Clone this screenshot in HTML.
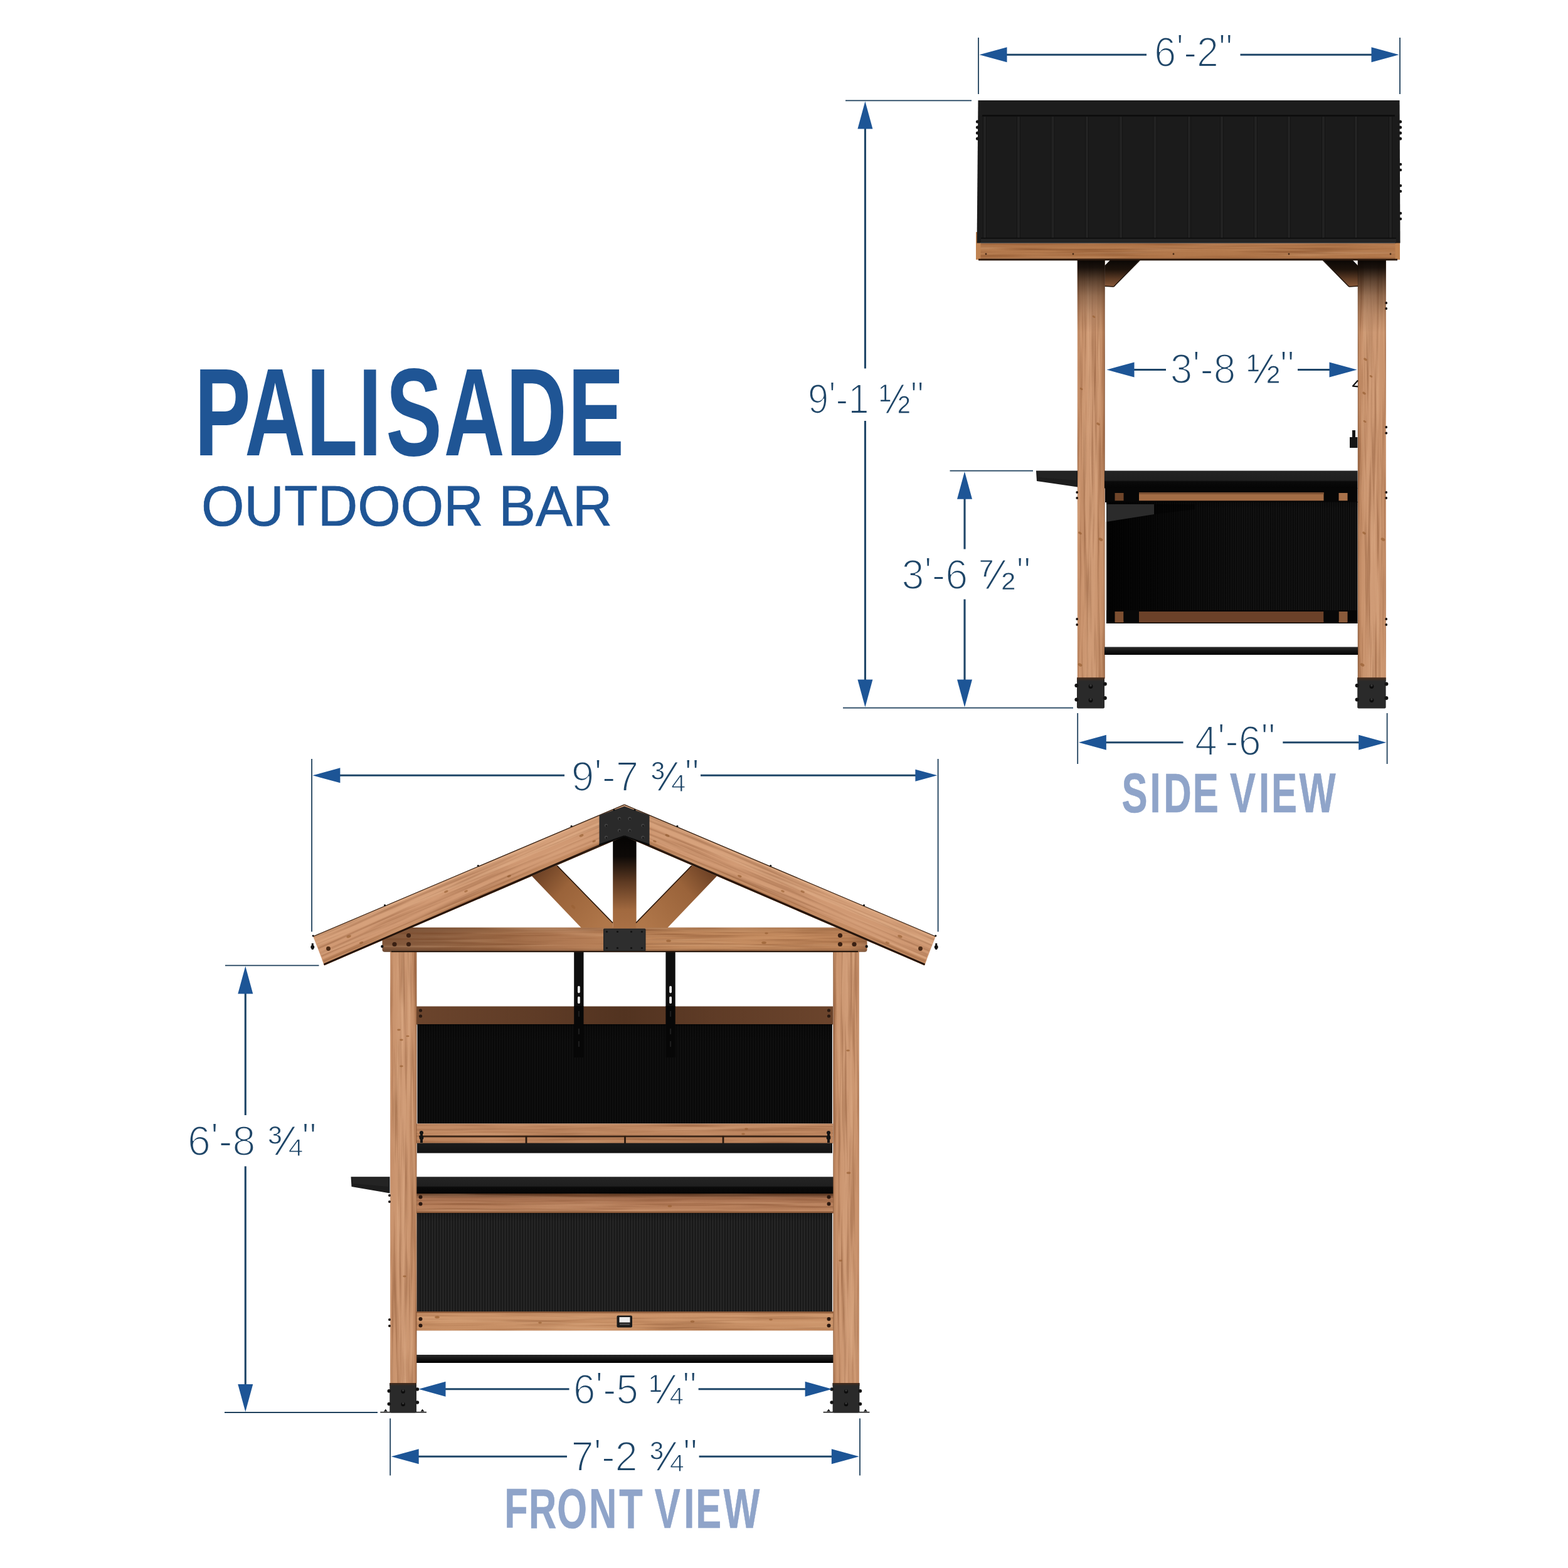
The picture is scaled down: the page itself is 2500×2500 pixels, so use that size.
<!DOCTYPE html>
<html lang="en">
<head>
<meta charset="utf-8">
<title>Palisade Outdoor Bar - Dimensions</title>
<style>
html,body{margin:0;padding:0;background:#fff;}
body{width:2500px;height:2500px;overflow:hidden;}
svg{display:block;}
text{white-space:pre;}
</style>
</head>
<body>
<svg width="2500" height="2500" viewBox="0 0 2500 2500" role="img" aria-label="Palisade Outdoor Bar dimension drawing" font-family="'Liberation Sans', sans-serif">
<defs>
<linearGradient id="gPost" x1="0" x2="1" y1="0" y2="0">
 <stop offset="0" stop-color="#c48d68"/><stop offset="0.1" stop-color="#c9936d"/>
 <stop offset="0.5" stop-color="#d09c77"/><stop offset="0.85" stop-color="#c8926c"/>
 <stop offset="0.96" stop-color="#b8815b"/><stop offset="1" stop-color="#8f5f3f"/>
</linearGradient>
<linearGradient id="gPostR" x1="1" x2="0" y1="0" y2="0">
 <stop offset="0" stop-color="#c48d68"/><stop offset="0.1" stop-color="#c9936d"/>
 <stop offset="0.5" stop-color="#d09c77"/><stop offset="0.85" stop-color="#c8926c"/>
 <stop offset="0.96" stop-color="#b8815b"/><stop offset="1" stop-color="#8f5f3f"/>
</linearGradient>
<linearGradient id="gRaft" x1="0" x2="0" y1="0" y2="1">
 <stop offset="0" stop-color="#cf9866"/><stop offset="0.55" stop-color="#c98f5e"/>
 <stop offset="0.9" stop-color="#bd8252"/><stop offset="1" stop-color="#a86d40"/>
</linearGradient>
<linearGradient id="gTie" gradientUnits="userSpaceOnUse" x1="609" x2="1383" y1="0" y2="0">
 <stop offset="0" stop-color="#80563a"/><stop offset="0.12" stop-color="#8c5f40"/>
 <stop offset="0.25" stop-color="#9f6c48"/><stop offset="0.38" stop-color="#b07953"/>
 <stop offset="0.55" stop-color="#bf875c"/><stop offset="0.85" stop-color="#c68d61"/>
 <stop offset="0.96" stop-color="#bb8258"/><stop offset="1" stop-color="#9a6846"/>
</linearGradient>
<linearGradient id="gTieV" x1="0" x2="0" y1="0" y2="1">
 <stop offset="0" stop-color="#000" stop-opacity="0.10"/><stop offset="0.25" stop-color="#000" stop-opacity="0"/>
 <stop offset="0.85" stop-color="#000" stop-opacity="0"/><stop offset="1" stop-color="#000" stop-opacity="0.25"/>
</linearGradient>
<linearGradient id="gKing" x1="0" x2="0" y1="0" y2="1">
 <stop offset="0" stop-color="#050403"/><stop offset="0.22" stop-color="#0d0907"/>
 <stop offset="0.5" stop-color="#5e3a22"/><stop offset="0.8" stop-color="#a1693f"/>
 <stop offset="1" stop-color="#a97045"/>
</linearGradient>
<linearGradient id="gBrL" gradientUnits="userSpaceOnUse" x1="860" y1="1390" x2="960" y2="1480">
 <stop offset="0" stop-color="#6f4326"/><stop offset="0.35" stop-color="#9a633a"/><stop offset="1" stop-color="#b0774a"/>
</linearGradient>
<linearGradient id="gBrR" gradientUnits="userSpaceOnUse" x1="1131" y1="1390" x2="1031" y2="1480">
 <stop offset="0" stop-color="#6f4326"/><stop offset="0.35" stop-color="#9a633a"/><stop offset="1" stop-color="#b0774a"/>
</linearGradient>
<linearGradient id="gRailDark" x1="0" x2="1" y1="0" y2="0">
 <stop offset="0" stop-color="#6b442c"/><stop offset="0.3" stop-color="#5e3b26"/><stop offset="0.5" stop-color="#523320"/>
 <stop offset="0.7" stop-color="#5e3b26"/><stop offset="1" stop-color="#6b442c"/>
</linearGradient>
<linearGradient id="gRailMid" x1="0" x2="0" y1="0" y2="1">
 <stop offset="0" stop-color="#c18a64"/><stop offset="1" stop-color="#bb835c"/>
</linearGradient>
<linearGradient id="gRailCnt" x1="0" x2="0" y1="0" y2="1">
 <stop offset="0" stop-color="#4e2f1c"/><stop offset="0.25" stop-color="#a56f4f"/><stop offset="0.5" stop-color="#b57d5a"/><stop offset="1" stop-color="#bd8560"/>
</linearGradient>
<linearGradient id="gRailLow" x1="0" x2="0" y1="0" y2="1">
 <stop offset="0" stop-color="#cc956b"/><stop offset="1" stop-color="#c68e64"/>
</linearGradient>
<linearGradient id="gCounter" x1="0" x2="0" y1="0" y2="1">
 <stop offset="0" stop-color="#242424"/><stop offset="0.55" stop-color="#1f1f1f"/>
 <stop offset="0.62" stop-color="#0a0a0a"/><stop offset="1" stop-color="#050505"/>
</linearGradient>
<linearGradient id="gShelf" x1="0" x2="0" y1="0" y2="1">
 <stop offset="0" stop-color="#1c1c1c"/><stop offset="1" stop-color="#131313"/>
</linearGradient>
<linearGradient id="gBar" x1="0" x2="0" y1="0" y2="1">
 <stop offset="0" stop-color="#2a2a2a"/><stop offset="0.45" stop-color="#161616"/><stop offset="1" stop-color="#000"/>
</linearGradient>
<linearGradient id="gPanelShade" x1="0" x2="0" y1="0" y2="1">
 <stop offset="0" stop-color="#000" stop-opacity="0.55"/><stop offset="0.12" stop-color="#000" stop-opacity="0.15"/>
 <stop offset="1" stop-color="#000" stop-opacity="0"/>
</linearGradient>
<linearGradient id="gFascia" x1="0" x2="0" y1="0" y2="1">
 <stop offset="0" stop-color="#a86e44"/><stop offset="0.3" stop-color="#b57b4e"/><stop offset="0.85" stop-color="#b0764a"/><stop offset="1" stop-color="#8c5936"/>
</linearGradient>
<linearGradient id="gSBr" gradientUnits="userSpaceOnUse" x1="0" y1="414" x2="0" y2="458">
 <stop offset="0" stop-color="#0a0705"/><stop offset="0.35" stop-color="#1c120b"/><stop offset="0.7" stop-color="#5d3b25"/><stop offset="1" stop-color="#8d5c3c"/>
</linearGradient>
<linearGradient id="gPostShade" gradientUnits="userSpaceOnUse" x1="0" y1="413" x2="0" y2="530">
 <stop offset="0" stop-color="#080503" stop-opacity="1"/><stop offset="0.12" stop-color="#0d0805" stop-opacity="0.93"/>
 <stop offset="0.3" stop-color="#1a0f08" stop-opacity="0.62"/><stop offset="0.5" stop-color="#2a1a10" stop-opacity="0.36"/>
 <stop offset="0.75" stop-color="#3a2416" stop-opacity="0.15"/><stop offset="1" stop-color="#3a2416" stop-opacity="0"/>
</linearGradient>
<linearGradient id="gSideShade" x1="0" x2="1" y1="0" y2="0">
 <stop offset="0" stop-color="#000" stop-opacity="0.85"/><stop offset="0.2" stop-color="#000" stop-opacity="0.6"/>
 <stop offset="0.55" stop-color="#000" stop-opacity="0.15"/><stop offset="1" stop-color="#000" stop-opacity="0.1"/>
</linearGradient>
<linearGradient id="gBrkTop" gradientUnits="userSpaceOnUse" x1="0" y1="1080.4" x2="0" y2="1086">
 <stop offset="0" stop-color="#4a2e1c"/><stop offset="1" stop-color="#2a2a2a"/>
</linearGradient>
<linearGradient id="gBrkTop2" gradientUnits="userSpaceOnUse" x1="0" y1="2205" x2="0" y2="2209.5">
 <stop offset="0" stop-color="#4a2e1c"/><stop offset="1" stop-color="#2a2a2a"/>
</linearGradient>
<filter id="grainV" x="0" y="0" width="1" height="1" color-interpolation-filters="sRGB">
 <feTurbulence type="fractalNoise" baseFrequency="0.22 0.006" numOctaves="3" seed="7" result="n"/>
 <feColorMatrix in="n" type="matrix" values="0 0 0 0 0.42  0 0 0 0 0.22  0 0 0 0 0.10  2.6 0 0 0 -1.15" result="d"/>
 <feComposite in="d" in2="SourceGraphic" operator="in"/>
</filter>
<filter id="grainVL" x="0" y="0" width="1" height="1" color-interpolation-filters="sRGB">
 <feTurbulence type="fractalNoise" baseFrequency="0.18 0.005" numOctaves="3" seed="21" result="n"/>
 <feColorMatrix in="n" type="matrix" values="0 0 0 0 1  0 0 0 0 0.85  0 0 0 0 0.7  2.4 0 0 0 -1.15" result="d"/>
 <feComposite in="d" in2="SourceGraphic" operator="in"/>
</filter>
<filter id="grainH" x="0" y="0" width="1" height="1" color-interpolation-filters="sRGB">
 <feTurbulence type="fractalNoise" baseFrequency="0.006 0.22" numOctaves="3" seed="11" result="n"/>
 <feColorMatrix in="n" type="matrix" values="0 0 0 0 0.42  0 0 0 0 0.22  0 0 0 0 0.10  2.6 0 0 0 -1.15" result="d"/>
 <feComposite in="d" in2="SourceGraphic" operator="in"/>
</filter>
<filter id="grainHL" x="0" y="0" width="1" height="1" color-interpolation-filters="sRGB">
 <feTurbulence type="fractalNoise" baseFrequency="0.005 0.18" numOctaves="3" seed="5" result="n"/>
 <feColorMatrix in="n" type="matrix" values="0 0 0 0 1  0 0 0 0 0.85  0 0 0 0 0.7  2.4 0 0 0 -1.15" result="d"/>
 <feComposite in="d" in2="SourceGraphic" operator="in"/>
</filter>
<pattern id="pCorr" width="4" height="8" patternUnits="userSpaceOnUse">
 <rect width="4" height="8" fill="#101010"/><rect x="0" width="1.6" height="8" fill="#1b1b1b"/>
</pattern>
<pattern id="pCorr2" width="4.3" height="8" patternUnits="userSpaceOnUse">
 <rect width="4.3" height="8" fill="#171717"/><rect x="0.3" width="1.9" height="8" fill="#2a2a2a"/><rect x="0" width="0.5" height="8" fill="#202020"/><rect x="2.1" width="0.5" height="8" fill="#202020"/>
</pattern>
<pattern id="pCorrS" width="3.6" height="8" patternUnits="userSpaceOnUse">
 <rect width="3.6" height="8" fill="#0b0b0b"/><rect x="0" width="1.4" height="8" fill="#181818"/>
</pattern>
</defs>
<g id="side-view">
<rect x="1717.80" y="413.00" width="43.80" height="669.00" fill="url(#gPost)" />
<rect x="1717.80" y="413.00" width="43.80" height="669.00" fill="#000" filter="url(#grainV)" opacity="0.4" />
<rect x="1717.80" y="413.00" width="43.80" height="669.00" fill="#000" filter="url(#grainVL)" opacity="0.240" />
<rect x="2164.80" y="413.00" width="45.00" height="669.00" fill="url(#gPostR)" />
<rect x="2164.80" y="413.00" width="45.00" height="669.00" fill="#000" filter="url(#grainV)" opacity="0.4" />
<rect x="2164.80" y="413.00" width="45.00" height="669.00" fill="#000" filter="url(#grainVL)" opacity="0.240" />
<polygon points="1770.70,414.00 1817.50,414.00 1775.70,457.40 1761.40,456.40 1761.40,423.50" fill="url(#gSBr)" />
<line x1="1817.20" y1="415.00" x2="1775.90" y2="457.00" stroke="#1c110a" stroke-width="1.4" stroke-linecap="butt"/>
<line x1="1775.70" y1="457.00" x2="1761.60" y2="456.20" stroke="#2a1a10" stroke-width="1.4" stroke-linecap="butt"/>
<polygon points="2155.90,414.00 2109.10,414.00 2150.90,457.40 2165.20,456.40 2165.20,423.50" fill="url(#gSBr)" />
<line x1="2109.40" y1="415.00" x2="2150.70" y2="457.00" stroke="#1c110a" stroke-width="1.4" stroke-linecap="butt"/>
<line x1="2150.90" y1="457.00" x2="2165.00" y2="456.20" stroke="#2a1a10" stroke-width="1.4" stroke-linecap="butt"/>
<rect x="1717.80" y="413.00" width="43.80" height="117.00" fill="url(#gPostShade)" />
<rect x="2164.80" y="413.00" width="45.00" height="117.00" fill="url(#gPostShade)" />
<rect x="1556.50" y="388.00" width="675.50" height="26.00" fill="url(#gFascia)" />
<rect x="1556.50" y="388.00" width="675.50" height="26.00" fill="#000" filter="url(#grainH)" opacity="0.4" />
<rect x="1556.50" y="388.00" width="675.50" height="26.00" fill="#000" filter="url(#grainHL)" opacity="0.240" />
<rect x="1556.00" y="370.00" width="7.50" height="44.00" fill="#c08453" />
<rect x="2224.50" y="370.00" width="7.50" height="44.00" fill="#c08453" />
<rect x="1560.00" y="412.60" width="668.00" height="2.80" fill="#2b190e" />
<circle cx="1572.00" cy="405.00" r="1.4" fill="#4a2c18" />
<circle cx="1711.00" cy="405.00" r="1.4" fill="#4a2c18" />
<circle cx="1871.00" cy="405.00" r="1.4" fill="#4a2c18" />
<circle cx="2055.00" cy="405.00" r="1.4" fill="#4a2c18" />
<circle cx="2217.00" cy="405.00" r="1.4" fill="#4a2c18" />
<polygon points="1559.50,160.00 2231.50,160.00 2232.50,387.50 1557.50,387.50" fill="#1b1b1b" />
<rect x="1560.00" y="160.00" width="671.00" height="24.00" fill="#1d1d1d" />
<rect x="1566.00" y="183.20" width="658.00" height="2.40" fill="#0c0c0c" />
<rect x="1567.00" y="186.00" width="6.00" height="195.00" fill="#222222" />
<rect x="1567.00" y="186.00" width="1.00" height="195.00" fill="#131313" />
<rect x="1572.00" y="186.00" width="1.00" height="195.00" fill="#131313" />
<rect x="1621.00" y="186.00" width="6.00" height="195.00" fill="#222222" />
<rect x="1621.00" y="186.00" width="1.00" height="195.00" fill="#131313" />
<rect x="1626.00" y="186.00" width="1.00" height="195.00" fill="#131313" />
<rect x="1675.50" y="186.00" width="6.00" height="195.00" fill="#222222" />
<rect x="1675.50" y="186.00" width="1.00" height="195.00" fill="#131313" />
<rect x="1680.50" y="186.00" width="1.00" height="195.00" fill="#131313" />
<rect x="1730.00" y="186.00" width="6.00" height="195.00" fill="#222222" />
<rect x="1730.00" y="186.00" width="1.00" height="195.00" fill="#131313" />
<rect x="1735.00" y="186.00" width="1.00" height="195.00" fill="#131313" />
<rect x="1784.00" y="186.00" width="6.00" height="195.00" fill="#222222" />
<rect x="1784.00" y="186.00" width="1.00" height="195.00" fill="#131313" />
<rect x="1789.00" y="186.00" width="1.00" height="195.00" fill="#131313" />
<rect x="1838.50" y="186.00" width="6.00" height="195.00" fill="#222222" />
<rect x="1838.50" y="186.00" width="1.00" height="195.00" fill="#131313" />
<rect x="1843.50" y="186.00" width="1.00" height="195.00" fill="#131313" />
<rect x="1893.00" y="186.00" width="6.00" height="195.00" fill="#222222" />
<rect x="1893.00" y="186.00" width="1.00" height="195.00" fill="#131313" />
<rect x="1898.00" y="186.00" width="1.00" height="195.00" fill="#131313" />
<rect x="1945.00" y="186.00" width="6.00" height="195.00" fill="#222222" />
<rect x="1945.00" y="186.00" width="1.00" height="195.00" fill="#131313" />
<rect x="1950.00" y="186.00" width="1.00" height="195.00" fill="#131313" />
<rect x="1999.00" y="186.00" width="6.00" height="195.00" fill="#222222" />
<rect x="1999.00" y="186.00" width="1.00" height="195.00" fill="#131313" />
<rect x="2004.00" y="186.00" width="1.00" height="195.00" fill="#131313" />
<rect x="2052.00" y="186.00" width="6.00" height="195.00" fill="#222222" />
<rect x="2052.00" y="186.00" width="1.00" height="195.00" fill="#131313" />
<rect x="2057.00" y="186.00" width="1.00" height="195.00" fill="#131313" />
<rect x="2107.00" y="186.00" width="6.00" height="195.00" fill="#222222" />
<rect x="2107.00" y="186.00" width="1.00" height="195.00" fill="#131313" />
<rect x="2112.00" y="186.00" width="1.00" height="195.00" fill="#131313" />
<rect x="2159.00" y="186.00" width="6.00" height="195.00" fill="#222222" />
<rect x="2159.00" y="186.00" width="1.00" height="195.00" fill="#131313" />
<rect x="2164.00" y="186.00" width="1.00" height="195.00" fill="#131313" />
<rect x="2214.00" y="186.00" width="6.00" height="195.00" fill="#222222" />
<rect x="2214.00" y="186.00" width="1.00" height="195.00" fill="#131313" />
<rect x="2219.00" y="186.00" width="1.00" height="195.00" fill="#131313" />
<rect x="1564.00" y="380.00" width="662.00" height="7.50" fill="#242424" />
<rect x="1564.00" y="379.00" width="662.00" height="1.60" fill="#0c0c0c" />
<circle cx="1558.50" cy="194.00" r="2.6" fill="#161616" />
<circle cx="2232.50" cy="194.00" r="2.6" fill="#161616" />
<circle cx="1558.50" cy="203.00" r="2.6" fill="#161616" />
<circle cx="2232.50" cy="203.00" r="2.6" fill="#161616" />
<circle cx="1558.50" cy="212.00" r="2.6" fill="#161616" />
<circle cx="2232.50" cy="212.00" r="2.6" fill="#161616" />
<circle cx="1558.50" cy="221.00" r="2.6" fill="#161616" />
<circle cx="2232.50" cy="221.00" r="2.6" fill="#161616" />
<circle cx="2233.00" cy="262.00" r="2.2" fill="#161616" />
<circle cx="2233.00" cy="271.00" r="2.2" fill="#161616" />
<circle cx="2233.00" cy="296.00" r="2.2" fill="#161616" />
<circle cx="2233.00" cy="305.00" r="2.2" fill="#161616" />
<circle cx="2233.00" cy="340.00" r="2.2" fill="#161616" />
<circle cx="2233.00" cy="349.00" r="2.2" fill="#161616" />
<rect x="1761.00" y="750.50" width="403.50" height="28.00" fill="url(#gCounter)" />
<polygon points="1652.00,750.50 1718.00,750.50 1718.00,776.50 1653.00,767.00" fill="#1d1d1d" />
<polygon points="1654.00,752.00 1716.00,752.00 1716.00,766.00 1655.00,761.00" fill="#232323" />
<rect x="1762.00" y="778.00" width="402.50" height="23.00" fill="#060606" />
<rect x="1816.00" y="785.00" width="294.50" height="13.30" fill="#a36c45" />
<rect x="1816.00" y="785.00" width="294.50" height="3.00" fill="#7c5033" />
<rect x="1777.50" y="786.00" width="14.00" height="12.30" fill="#6f4529" />
<rect x="2134.50" y="786.00" width="14.00" height="12.30" fill="#a8714a" />
<rect x="1764.00" y="800.00" width="400.50" height="173.00" fill="url(#pCorrS)" />
<rect x="1764.00" y="800.00" width="400.50" height="173.00" fill="url(#gSideShade)" />
<rect x="1764.00" y="800.00" width="400.50" height="12.00" fill="url(#gPanelShade)" />
<polygon points="1764.00,804.00 1840.00,804.00 1840.00,820.00 1764.00,832.00" fill="#2b2b2b" />
<polygon points="1764.00,832.00 1840.00,820.00 1905.00,812.00 1905.00,804.00 1840.00,804.00 1840.00,820.00" fill="#000"  opacity="0.35"/>
<rect x="1761.80" y="832.00" width="2.40" height="141.00" fill="#e8e0d8" />
<rect x="1764.00" y="973.00" width="400.50" height="21.00" fill="#050505" />
<rect x="1816.00" y="975.00" width="294.50" height="17.50" fill="#6b4129" />
<rect x="1777.50" y="975.00" width="14.00" height="17.50" fill="#7d4f31" />
<rect x="2134.50" y="975.00" width="14.00" height="17.50" fill="#8a5a3a" />
<rect x="1791.50" y="973.00" width="24.50" height="17.00" fill="#080808" />
<rect x="2110.50" y="973.00" width="24.00" height="17.00" fill="#080808" />
<rect x="1761.00" y="1031.50" width="404.00" height="12.50" fill="url(#gBar)" />
<rect x="2152.00" y="697.00" width="12.40" height="17.00" fill="#161616" />
<rect x="2156.00" y="686.00" width="5.00" height="12.00" fill="#161616" />
<path d="M2165,606.5 L2157,615.6 L2165,616.4" fill="none" stroke="#161616" stroke-width="2.2" stroke-linejoin="round"/>
<circle cx="2210.20" cy="483.00" r="1.9" fill="#1c1410" />
<circle cx="2210.20" cy="492.00" r="1.9" fill="#1c1410" />
<circle cx="2210.20" cy="681.00" r="1.9" fill="#1c1410" />
<circle cx="2210.20" cy="690.50" r="1.9" fill="#1c1410" />
<circle cx="2210.20" cy="785.00" r="1.9" fill="#1c1410" />
<circle cx="2210.20" cy="794.00" r="1.9" fill="#1c1410" />
<circle cx="2210.20" cy="987.00" r="1.9" fill="#1c1410" />
<circle cx="2210.20" cy="996.00" r="1.9" fill="#1c1410" />
<circle cx="1717.20" cy="785.00" r="1.9" fill="#1c1410" />
<circle cx="1717.20" cy="794.00" r="1.9" fill="#1c1410" />
<circle cx="1717.20" cy="987.00" r="1.9" fill="#1c1410" />
<circle cx="1717.20" cy="996.00" r="1.9" fill="#1c1410" />
<ellipse cx="1724.0" cy="620.0" rx="2.6" ry="1.5" fill="#9a6236" opacity="0.75" transform="rotate(30 1724.0 620.0)"/>
<ellipse cx="1751.0" cy="676.0" rx="3.1" ry="1.875" fill="#9a6236" opacity="0.75" transform="rotate(30 1751.0 676.0)"/>
<ellipse cx="1722.0" cy="850.0" rx="3.1" ry="1.875" fill="#9a6236" opacity="0.75" transform="rotate(30 1722.0 850.0)"/>
<ellipse cx="1755.0" cy="860.0" rx="3.6" ry="2.25" fill="#9a6236" opacity="0.75" transform="rotate(30 1755.0 860.0)"/>
<ellipse cx="1722.0" cy="1060.0" rx="3.6" ry="2.25" fill="#9a6236" opacity="0.75" transform="rotate(30 1722.0 1060.0)"/>
<ellipse cx="1744.0" cy="505.0" rx="2.6" ry="1.5" fill="#9a6236" opacity="0.75" transform="rotate(30 1744.0 505.0)"/>
<ellipse cx="2175.0" cy="850.0" rx="3.1" ry="1.875" fill="#9a6236" opacity="0.75" transform="rotate(30 2175.0 850.0)"/>
<ellipse cx="2205.0" cy="860.0" rx="3.6" ry="2.25" fill="#9a6236" opacity="0.75" transform="rotate(30 2205.0 860.0)"/>
<ellipse cx="2172.0" cy="1060.0" rx="3.6" ry="2.25" fill="#9a6236" opacity="0.75" transform="rotate(30 2172.0 1060.0)"/>
<ellipse cx="2177.0" cy="573.0" rx="3.1" ry="1.875" fill="#9a6236" opacity="0.75" transform="rotate(30 2177.0 573.0)"/>
<ellipse cx="2186.0" cy="600.0" rx="2.6" ry="1.5" fill="#9a6236" opacity="0.75" transform="rotate(30 2186.0 600.0)"/>
<ellipse cx="2175.0" cy="627.0" rx="3.1" ry="1.875" fill="#9a6236" opacity="0.75" transform="rotate(30 2175.0 627.0)"/>
<ellipse cx="2176.0" cy="672.0" rx="2.6" ry="1.5" fill="#9a6236" opacity="0.75" transform="rotate(30 2176.0 672.0)"/>
<path d="M1717,1080.4 H1761 V1127.5 Q1761,1129.6 1759,1129.6 H1719 Q1717,1129.6 1717,1127.5 Z" fill="#2a2a2a"/>
<rect x="1717.00" y="1080.40" width="44.00" height="5.60" fill="url(#gBrkTop)" />
<circle cx="1739.00" cy="1094.50" r="3.4" fill="#0c0c0c" />
<circle cx="1739.00" cy="1092.90" r="1.8" fill="#555"  opacity="0.6"/>
<circle cx="1739.00" cy="1116.50" r="3.4" fill="#0c0c0c" />
<circle cx="1739.00" cy="1114.90" r="1.8" fill="#555"  opacity="0.6"/>
<circle cx="1716.40" cy="1093.00" r="3" fill="#141414" />
<circle cx="1761.80" cy="1090.50" r="3" fill="#141414" />
<circle cx="1716.40" cy="1115.50" r="3" fill="#141414" />
<circle cx="1761.80" cy="1113.00" r="3" fill="#141414" />
<path d="M2164.2,1080.4 H2209.6 V1127.5 Q2209.6,1129.6 2207.6,1129.6 H2166.2 Q2164.2,1129.6 2164.2,1127.5 Z" fill="#2a2a2a"/>
<rect x="2164.20" y="1080.40" width="45.40" height="5.60" fill="url(#gBrkTop)" />
<circle cx="2186.90" cy="1094.50" r="3.4" fill="#0c0c0c" />
<circle cx="2186.90" cy="1092.90" r="1.8" fill="#555"  opacity="0.6"/>
<circle cx="2186.90" cy="1116.50" r="3.4" fill="#0c0c0c" />
<circle cx="2186.90" cy="1114.90" r="1.8" fill="#555"  opacity="0.6"/>
<circle cx="2163.60" cy="1093.00" r="3" fill="#141414" />
<circle cx="2210.40" cy="1090.50" r="3" fill="#141414" />
<circle cx="2163.60" cy="1115.50" r="3" fill="#141414" />
<circle cx="2210.40" cy="1113.00" r="3" fill="#141414" />
</g>
<g id="front-view">
<rect x="915.20" y="1517.00" width="15.30" height="169.00" fill="#0e0e0e" />
<rect x="921.00" y="1572.00" width="3.80" height="11.40" fill="#f4f4f4"  rx="1.8"/>
<rect x="921.00" y="1588.80" width="3.80" height="11.40" fill="#f4f4f4"  rx="1.8"/>
<rect x="1061.40" y="1517.00" width="15.30" height="169.00" fill="#0e0e0e" />
<rect x="1067.20" y="1572.00" width="3.80" height="11.40" fill="#f4f4f4"  rx="1.8"/>
<rect x="1067.20" y="1588.80" width="3.80" height="11.40" fill="#f4f4f4"  rx="1.8"/>
<rect x="664.00" y="1604.50" width="664.00" height="29.00" fill="url(#gRailDark)" />
<rect x="665.50" y="1633.00" width="661.30" height="158.50" fill="url(#pCorr)" />
<rect x="665.50" y="1633.00" width="661.30" height="158.50" fill="#000"  opacity="0.38"/>
<rect x="665.50" y="1633.00" width="661.30" height="32.00" fill="url(#gPanelShade)" />
<rect x="915.20" y="1604.00" width="15.30" height="82.00" fill="#070707" />
<rect x="921.80" y="1612.00" width="2.20" height="9.00" fill="#1d1d1d" />
<rect x="921.80" y="1640.00" width="2.20" height="9.00" fill="#1d1d1d" />
<rect x="921.80" y="1660.00" width="2.20" height="9.00" fill="#1d1d1d" />
<rect x="1061.40" y="1604.00" width="15.30" height="82.00" fill="#070707" />
<rect x="1068.00" y="1612.00" width="2.20" height="9.00" fill="#1d1d1d" />
<rect x="1068.00" y="1640.00" width="2.20" height="9.00" fill="#1d1d1d" />
<rect x="1068.00" y="1660.00" width="2.20" height="9.00" fill="#1d1d1d" />
<rect x="664.00" y="1791.50" width="664.00" height="31.50" fill="url(#gRailMid)" />
<rect x="664.00" y="1791.50" width="664.00" height="31.50" fill="#000" filter="url(#grainH)" opacity="0.35" />
<rect x="664.00" y="1791.50" width="664.00" height="31.50" fill="#000" filter="url(#grainHL)" opacity="0.210" />
<rect x="668.00" y="1810.50" width="656.00" height="2.80" fill="#3a2416" />
<rect x="837.60" y="1811.00" width="2.80" height="12.00" fill="#2a1a10" />
<rect x="995.10" y="1811.00" width="2.80" height="12.00" fill="#2a1a10" />
<rect x="1151.60" y="1811.00" width="2.80" height="12.00" fill="#2a1a10" />
<rect x="665.00" y="1822.50" width="662.00" height="16.00" fill="url(#gShelf)" />
<circle cx="672.00" cy="1806.00" r="3" fill="#141414" />
<circle cx="672.00" cy="1814.00" r="3.4" fill="#141414" />
<rect x="670.00" y="1806.00" width="4.00" height="16.00" fill="#141414" />
<circle cx="1321.00" cy="1806.00" r="3" fill="#141414" />
<circle cx="1321.00" cy="1814.00" r="3.4" fill="#141414" />
<rect x="1319.00" y="1806.00" width="4.00" height="16.00" fill="#141414" />
<rect x="663.00" y="1876.30" width="666.00" height="26.70" fill="url(#gCounter)" />
<polygon points="559.50,1876.30 621.50,1876.30 621.50,1902.50 560.50,1892.00" fill="#1d1d1d" />
<polygon points="561.50,1878.00 619.00,1878.00 619.00,1892.00 562.50,1887.00" fill="#242424" />
<rect x="663.00" y="1903.00" width="666.00" height="31.00" fill="url(#gRailCnt)" />
<rect x="663.00" y="1903.00" width="666.00" height="31.00" fill="#000" filter="url(#grainH)" opacity="0.35" />
<rect x="663.00" y="1903.00" width="666.00" height="31.00" fill="#000" filter="url(#grainHL)" opacity="0.210" />
<rect x="663.00" y="1931.50" width="666.00" height="3.00" fill="#8a5a3a" />
<rect x="664.50" y="1934.00" width="662.50" height="157.00" fill="url(#pCorr2)" />
<rect x="664.50" y="1934.00" width="662.50" height="14.00" fill="url(#gPanelShade)" />
<rect x="663.00" y="2091.00" width="666.00" height="30.50" fill="url(#gRailLow)" />
<rect x="663.00" y="2091.00" width="666.00" height="30.50" fill="#000" filter="url(#grainH)" opacity="0.35" />
<rect x="663.00" y="2091.00" width="666.00" height="30.50" fill="#000" filter="url(#grainHL)" opacity="0.210" />
<rect x="663.00" y="2091.00" width="666.00" height="2.50" fill="#8a5a3a" />
<rect x="983.50" y="2097.50" width="24.50" height="19.00" fill="#1a1a1a"  rx="2"/>
<rect x="987.50" y="2100.00" width="17.00" height="8.50" fill="#ededed" />
<rect x="988.00" y="2110.50" width="16.00" height="2.00" fill="#555" />
<rect x="663.00" y="2160.00" width="666.00" height="13.00" fill="url(#gBar)" />
<circle cx="670.50" cy="1611.00" r="2.6" fill="#2a1a12" />
<circle cx="670.50" cy="1620.00" r="2.6" fill="#2a1a12" />
<circle cx="670.50" cy="1908.50" r="3" fill="#2a1810" />
<circle cx="670.50" cy="1919.50" r="3" fill="#2a1810" />
<circle cx="670.50" cy="2103.00" r="3" fill="#2a1810" />
<circle cx="670.50" cy="2113.50" r="3" fill="#2a1810" />
<circle cx="1321.50" cy="1611.00" r="2.6" fill="#2a1a12" />
<circle cx="1321.50" cy="1620.00" r="2.6" fill="#2a1a12" />
<circle cx="1321.50" cy="1908.50" r="3" fill="#2a1810" />
<circle cx="1321.50" cy="1919.50" r="3" fill="#2a1810" />
<circle cx="1321.50" cy="2103.00" r="3" fill="#2a1810" />
<circle cx="1321.50" cy="2113.50" r="3" fill="#2a1810" />
<rect x="622.20" y="1517.00" width="42.20" height="688.00" fill="url(#gPost)" />
<rect x="622.20" y="1517.00" width="42.20" height="688.00" fill="#000" filter="url(#grainV)" opacity="0.4" />
<rect x="622.20" y="1517.00" width="42.20" height="688.00" fill="#000" filter="url(#grainVL)" opacity="0.240" />
<rect x="1328.30" y="1517.00" width="41.50" height="688.00" fill="url(#gPostR)" />
<rect x="1328.30" y="1517.00" width="41.50" height="688.00" fill="#000" filter="url(#grainV)" opacity="0.4" />
<rect x="1328.30" y="1517.00" width="41.50" height="688.00" fill="#000" filter="url(#grainVL)" opacity="0.240" />
<circle cx="621.00" cy="1906.00" r="2" fill="#1c1410" />
<circle cx="621.00" cy="1916.00" r="2" fill="#1c1410" />
<circle cx="621.00" cy="2104.00" r="2" fill="#1c1410" />
<circle cx="621.00" cy="2114.00" r="2" fill="#1c1410" />
<rect x="609.5" y="1478.8" width="773" height="39" rx="4" fill="url(#gTie)"/>
<rect x="609.5" y="1478.8" width="773" height="39" rx="4" fill="url(#gTieV)"/>
<rect x="611.00" y="1479.00" width="770.00" height="38.00" fill="#000" filter="url(#grainH)" opacity="0.4" />
<rect x="611.00" y="1479.00" width="770.00" height="38.00" fill="#000" filter="url(#grainHL)" opacity="0.240" />
<rect x="624.00" y="1516.00" width="744.00" height="2.20" fill="#2b190e" />
<rect x="977.20" y="1333.00" width="37.40" height="147.00" fill="url(#gKing)" />
<polygon points="846.70,1395.40 888.10,1379.50 977.20,1471.00 977.20,1479.00 926.50,1479.00" fill="url(#gBrL)" />
<line x1="888.50" y1="1380.50" x2="977.00" y2="1471.50" stroke="#2a180d" stroke-width="1.6" stroke-linecap="butt"/>
<polygon points="1144.30,1395.40 1102.90,1379.50 1013.80,1471.00 1013.80,1479.00 1064.50,1479.00" fill="url(#gBrR)" />
<line x1="1102.50" y1="1380.50" x2="1014.00" y2="1471.50" stroke="#2a180d" stroke-width="1.6" stroke-linecap="butt"/>
<polygon points="499.40,1493.00 995.50,1282.80 995.50,1333.20 517.00,1539.20" fill="#d09973" />
<polygon points="1491.60,1493.00 995.50,1282.80 995.50,1333.20 1474.00,1539.20" fill="#d09973" />
<polygon points="499.40,1493.00 995.50,1282.80 995.50,1300.44 505.56,1509.17" fill="#d7a27d"  opacity="0.8"/>
<polygon points="513.48,1529.96 995.50,1323.12 995.50,1333.20 517.00,1539.20" fill="#bd845c"  opacity="0.7"/>
<polygon points="515.94,1536.43 995.50,1329.17 995.50,1333.20 517.00,1539.20" fill="#24140b" />
<ellipse cx="556.1" cy="1493.0" rx="3.8" ry="2.0999999999999996" fill="#9a6236" opacity="0.7" transform="rotate(-22 556.1 1493.0)"/>
<ellipse cx="576.1" cy="1503.1" rx="3.3" ry="1.75" fill="#9a6236" opacity="0.7" transform="rotate(-22 576.1 1503.1)"/>
<ellipse cx="711.3" cy="1421.5" rx="3.3" ry="1.75" fill="#9a6236" opacity="0.7" transform="rotate(-22 711.3 1421.5)"/>
<ellipse cx="743.0" cy="1421.0" rx="3.0" ry="1.54" fill="#9a6236" opacity="0.7" transform="rotate(-22 743.0 1421.0)"/>
<ellipse cx="811.7" cy="1396.8" rx="3.3" ry="1.75" fill="#9a6236" opacity="0.7" transform="rotate(-22 811.7 1396.8)"/>
<ellipse cx="927.0" cy="1332.2" rx="3.5999999999999996" ry="1.9599999999999997" fill="#9a6236" opacity="0.7" transform="rotate(-22 927.0 1332.2)"/>
<ellipse cx="947.2" cy="1341.3" rx="3.0" ry="1.54" fill="#9a6236" opacity="0.7" transform="rotate(-22 947.2 1341.3)"/>
<rect x="0.00" y="1.00" width="496.79" height="45.44" fill="#000" filter="url(#grainH)" opacity="0.35" transform="translate(499.40 1493.00) rotate(-22.963)"/>
<rect x="0.00" y="1.00" width="496.79" height="45.44" fill="#000" filter="url(#grainHL)" opacity="0.210" transform="translate(499.40 1493.00) rotate(-22.963)"/>
<line x1="499.40" y1="1493.00" x2="995.50" y2="1282.80" stroke="#3a2618" stroke-width="1.3" stroke-linecap="butt"/>
<circle cx="498.30" cy="1510.00" r="3" fill="#111" />
<rect x="496.80" y="1504.00" width="3.00" height="10.00" fill="#111" />
<circle cx="499.20" cy="1492.00" r="1.6" fill="#111" />
<circle cx="523.50" cy="1512.50" r="3.4" fill="#4a2a16" />
<circle cx="613.50" cy="1443.45" r="1.6" fill="#1a1a1a" />
<circle cx="762.33" cy="1380.39" r="1.6" fill="#1a1a1a" />
<circle cx="911.16" cy="1317.33" r="1.6" fill="#1a1a1a" />
<polygon points="1491.60,1493.00 995.50,1282.80 995.50,1300.44 1485.44,1509.17" fill="#d7a27d"  opacity="0.8"/>
<polygon points="1477.52,1529.96 995.50,1323.12 995.50,1333.20 1474.00,1539.20" fill="#bd845c"  opacity="0.7"/>
<polygon points="1475.06,1536.43 995.50,1329.17 995.50,1333.20 1474.00,1539.20" fill="#24140b" />
<ellipse cx="1434.9" cy="1493.0" rx="3.8" ry="2.0999999999999996" fill="#9a6236" opacity="0.7" transform="rotate(22 1434.9 1493.0)"/>
<ellipse cx="1414.9" cy="1503.1" rx="3.3" ry="1.75" fill="#9a6236" opacity="0.7" transform="rotate(22 1414.9 1503.1)"/>
<ellipse cx="1279.7" cy="1421.5" rx="3.3" ry="1.75" fill="#9a6236" opacity="0.7" transform="rotate(22 1279.7 1421.5)"/>
<ellipse cx="1248.0" cy="1421.0" rx="3.0" ry="1.54" fill="#9a6236" opacity="0.7" transform="rotate(22 1248.0 1421.0)"/>
<ellipse cx="1179.3" cy="1396.8" rx="3.3" ry="1.75" fill="#9a6236" opacity="0.7" transform="rotate(22 1179.3 1396.8)"/>
<ellipse cx="1064.0" cy="1332.2" rx="3.5999999999999996" ry="1.9599999999999997" fill="#9a6236" opacity="0.7" transform="rotate(22 1064.0 1332.2)"/>
<ellipse cx="1043.8" cy="1341.3" rx="3.0" ry="1.54" fill="#9a6236" opacity="0.7" transform="rotate(22 1043.8 1341.3)"/>
<rect x="42.00" y="1.00" width="496.79" height="45.44" fill="#000" filter="url(#grainH)" opacity="0.35" transform="translate(995.50 1282.80) rotate(22.963)"/>
<rect x="42.00" y="1.00" width="496.79" height="45.44" fill="#000" filter="url(#grainHL)" opacity="0.210" transform="translate(995.50 1282.80) rotate(22.963)"/>
<line x1="1491.60" y1="1493.00" x2="995.50" y2="1282.80" stroke="#3a2618" stroke-width="1.3" stroke-linecap="butt"/>
<circle cx="1492.70" cy="1510.00" r="3" fill="#111" />
<rect x="1491.20" y="1504.00" width="3.00" height="10.00" fill="#111" />
<circle cx="1491.80" cy="1492.00" r="1.6" fill="#111" />
<circle cx="1467.50" cy="1512.50" r="3.4" fill="#4a2a16" />
<circle cx="1377.50" cy="1443.45" r="1.6" fill="#1a1a1a" />
<circle cx="1228.67" cy="1380.39" r="1.6" fill="#1a1a1a" />
<circle cx="1079.84" cy="1317.33" r="1.6" fill="#1a1a1a" />
<circle cx="629.00" cy="1505.50" r="3.6" fill="#3a2013" />
<circle cx="651.50" cy="1491.50" r="3.6" fill="#3a2013" />
<circle cx="651.50" cy="1505.50" r="3.6" fill="#3a2013" />
<circle cx="609.30" cy="1509.00" r="2.2" fill="#141414" />
<circle cx="1362.00" cy="1505.50" r="3.6" fill="#3a2013" />
<circle cx="1339.50" cy="1491.50" r="3.6" fill="#3a2013" />
<circle cx="1339.50" cy="1505.50" r="3.6" fill="#3a2013" />
<circle cx="1381.70" cy="1509.00" r="2.2" fill="#141414" />
<polygon points="955.50,1300.00 995.50,1285.50 1035.50,1300.00 1035.50,1347.00 995.50,1333.20 955.50,1347.00" fill="#2a2a2a" />
<line x1="955.50" y1="1347.00" x2="995.50" y2="1333.20" stroke="#0a0a0a" stroke-width="2.4" stroke-linecap="butt"/>
<line x1="1035.50" y1="1347.00" x2="995.50" y2="1333.20" stroke="#0a0a0a" stroke-width="2.4" stroke-linecap="butt"/>
<circle cx="966.50" cy="1316.00" r="2.6" fill="#454545" />
<circle cx="966.90" cy="1316.80" r="1.6" fill="#1a1a1a" />
<circle cx="966.50" cy="1335.00" r="2.6" fill="#454545" />
<circle cx="966.90" cy="1335.80" r="1.6" fill="#1a1a1a" />
<circle cx="987.50" cy="1305.00" r="2.6" fill="#454545" />
<circle cx="987.90" cy="1305.80" r="1.6" fill="#1a1a1a" />
<circle cx="1004.00" cy="1305.00" r="2.6" fill="#454545" />
<circle cx="1004.40" cy="1305.80" r="1.6" fill="#1a1a1a" />
<circle cx="987.50" cy="1324.00" r="2.6" fill="#454545" />
<circle cx="987.90" cy="1324.80" r="1.6" fill="#1a1a1a" />
<circle cx="1004.00" cy="1324.00" r="2.6" fill="#454545" />
<circle cx="1004.40" cy="1324.80" r="1.6" fill="#1a1a1a" />
<circle cx="1025.00" cy="1316.00" r="2.6" fill="#454545" />
<circle cx="1025.40" cy="1316.80" r="1.6" fill="#1a1a1a" />
<circle cx="1025.00" cy="1335.00" r="2.6" fill="#454545" />
<circle cx="1025.40" cy="1335.80" r="1.6" fill="#1a1a1a" />
<circle cx="979.00" cy="1291.50" r="1.6" fill="#111" />
<circle cx="1012.00" cy="1291.50" r="1.6" fill="#111" />
<rect x="962.00" y="1480.50" width="67.50" height="36.00" fill="#262626"  rx="1.5"/>
<rect x="963.50" y="1482.00" width="64.50" height="33.00" fill="#2e2e2e"  rx="1"/>
<circle cx="967.50" cy="1485.50" r="1.6" fill="#111" />
<circle cx="967.50" cy="1511.50" r="1.6" fill="#111" />
<circle cx="984.50" cy="1485.50" r="1.6" fill="#111" />
<circle cx="984.50" cy="1511.50" r="1.6" fill="#111" />
<circle cx="1006.50" cy="1485.50" r="1.6" fill="#111" />
<circle cx="1006.50" cy="1511.50" r="1.6" fill="#111" />
<circle cx="1023.50" cy="1485.50" r="1.6" fill="#111" />
<circle cx="1023.50" cy="1511.50" r="1.6" fill="#111" />
<ellipse cx="636.0" cy="1642.0" rx="2.8" ry="1.4" fill="#9a6236" opacity="0.75" transform="rotate(0 636.0 1642.0)"/>
<ellipse cx="640.0" cy="1658.0" rx="2.8" ry="1.4" fill="#9a6236" opacity="0.75" transform="rotate(0 640.0 1658.0)"/>
<ellipse cx="650.0" cy="1652.0" rx="2.6" ry="1.26" fill="#9a6236" opacity="0.75" transform="rotate(0 650.0 1652.0)"/>
<ellipse cx="1066.0" cy="1500.0" rx="3.8" ry="2.0999999999999996" fill="#9a6236" opacity="0.75" transform="rotate(0 1066.0 1500.0)"/>
<ellipse cx="1218.0" cy="1503.0" rx="3.8" ry="2.0999999999999996" fill="#9a6236" opacity="0.75" transform="rotate(0 1218.0 1503.0)"/>
<ellipse cx="1222.0" cy="1488.0" rx="2.8" ry="1.4" fill="#9a6236" opacity="0.75" transform="rotate(0 1222.0 1488.0)"/>
<ellipse cx="914.0" cy="1446.0" rx="3.8" ry="2.0999999999999996" fill="#9a6236" opacity="0.75" transform="rotate(45 914.0 1446.0)"/>
<ellipse cx="1353.0" cy="1870.0" rx="3.3" ry="1.75" fill="#9a6236" opacity="0.75" transform="rotate(0 1353.0 1870.0)"/>
<ellipse cx="640.0" cy="1700.0" rx="2.8" ry="1.4" fill="#9a6236" opacity="0.75" transform="rotate(0 640.0 1700.0)"/>
<ellipse cx="1190.0" cy="1800.0" rx="2.8" ry="1.4" fill="#9a6236" opacity="0.75" transform="rotate(0 1190.0 1800.0)"/>
<ellipse cx="1185.0" cy="1808.0" rx="2.8" ry="1.4" fill="#9a6236" opacity="0.75" transform="rotate(0 1185.0 1808.0)"/>
<ellipse cx="1068.0" cy="1923.0" rx="3.3" ry="1.75" fill="#9a6236" opacity="0.75" transform="rotate(0 1068.0 1923.0)"/>
<ellipse cx="1104.0" cy="2107.0" rx="3.3" ry="1.75" fill="#9a6236" opacity="0.75" transform="rotate(0 1104.0 2107.0)"/>
<ellipse cx="697.0" cy="2100.0" rx="3.8" ry="2.0999999999999996" fill="#9a6236" opacity="0.75" transform="rotate(0 697.0 2100.0)"/>
<ellipse cx="861.0" cy="2109.0" rx="2.8" ry="1.4" fill="#9a6236" opacity="0.75" transform="rotate(0 861.0 2109.0)"/>
<ellipse cx="1229.0" cy="2104.0" rx="2.8" ry="1.4" fill="#9a6236" opacity="0.75" transform="rotate(0 1229.0 2104.0)"/>
<ellipse cx="1352.0" cy="1675.0" rx="2.8" ry="1.4" fill="#9a6236" opacity="0.75" transform="rotate(0 1352.0 1675.0)"/>
<ellipse cx="1340.0" cy="2010.0" rx="2.8" ry="1.4" fill="#9a6236" opacity="0.75" transform="rotate(0 1340.0 2010.0)"/>
<ellipse cx="645.0" cy="2035.0" rx="2.8" ry="1.4" fill="#9a6236" opacity="0.75" transform="rotate(0 645.0 2035.0)"/>
<path d="M621.3,2205 H664 V2250.5 Q664,2252.7 662,2252.7 H623.3 Q621.3,2252.7 621.3,2250.5 Z" fill="#2a2a2a"/>
<rect x="621.30" y="2205.00" width="42.70" height="4.50" fill="url(#gBrkTop2)" />
<circle cx="642.65" cy="2218.50" r="3.2" fill="#0c0c0c" />
<circle cx="642.65" cy="2216.90" r="1.7" fill="#555"  opacity="0.6"/>
<circle cx="642.65" cy="2239.00" r="3.2" fill="#0c0c0c" />
<circle cx="642.65" cy="2237.40" r="1.7" fill="#555"  opacity="0.6"/>
<circle cx="620.30" cy="2217.80" r="2.8" fill="#141414" />
<circle cx="620.30" cy="2238.50" r="2.8" fill="#141414" />
<circle cx="665.40" cy="2215.00" r="2.8" fill="#141414" />
<circle cx="665.40" cy="2236.00" r="2.8" fill="#141414" />
<rect x="606.30" y="2250.80" width="16.00" height="1.70" fill="#222" />
<rect x="663.00" y="2250.80" width="17.00" height="1.70" fill="#222" />
<polygon points="611.80,2250.40 614.80,2246.60 617.80,2250.40" fill="#1a1a1a" />
<polygon points="676.50,2250.40 673.50,2246.60 670.50,2250.40" fill="#1a1a1a" />
<path d="M1327.6,2205 H1370.4 V2250.5 Q1370.4,2252.7 1368.4,2252.7 H1329.6 Q1327.6,2252.7 1327.6,2250.5 Z" fill="#2a2a2a"/>
<rect x="1327.60" y="2205.00" width="42.80" height="4.50" fill="url(#gBrkTop2)" />
<circle cx="1349.00" cy="2218.50" r="3.2" fill="#0c0c0c" />
<circle cx="1349.00" cy="2216.90" r="1.7" fill="#555"  opacity="0.6"/>
<circle cx="1349.00" cy="2239.00" r="3.2" fill="#0c0c0c" />
<circle cx="1349.00" cy="2237.40" r="1.7" fill="#555"  opacity="0.6"/>
<circle cx="1371.40" cy="2217.80" r="2.8" fill="#141414" />
<circle cx="1371.40" cy="2238.50" r="2.8" fill="#141414" />
<circle cx="1326.20" cy="2215.00" r="2.8" fill="#141414" />
<circle cx="1326.20" cy="2236.00" r="2.8" fill="#141414" />
<rect x="1312.60" y="2250.80" width="16.00" height="1.70" fill="#222" />
<rect x="1369.40" y="2250.80" width="17.00" height="1.70" fill="#222" />
<polygon points="1318.10,2250.40 1321.10,2246.60 1324.10,2250.40" fill="#1a1a1a" />
<polygon points="1382.90,2250.40 1379.90,2246.60 1376.90,2250.40" fill="#1a1a1a" />
</g>
<g id="dimensions">
<line x1="1560.00" y1="60.00" x2="1560.00" y2="150.00" stroke="#1f405c" stroke-width="1.8" stroke-linecap="butt"/>
<line x1="2232.00" y1="60.00" x2="2232.00" y2="150.00" stroke="#1f405c" stroke-width="1.8" stroke-linecap="butt"/>
<line x1="1604.00" y1="87.20" x2="1828.00" y2="87.20" stroke="#1f4668" stroke-width="3.1" stroke-linecap="butt"/>
<line x1="1977.50" y1="87.20" x2="2188.00" y2="87.20" stroke="#1f4668" stroke-width="3.1" stroke-linecap="butt"/>
<polygon points="1561.50,87.20 1605.50,75.20 1605.50,99.20" fill="#1d5596" />
<polygon points="2230.50,87.20 2186.50,75.20 2186.50,99.20" fill="#1d5596" />
<line x1="1348.00" y1="160.40" x2="1549.00" y2="160.40" stroke="#1f405c" stroke-width="1.8" stroke-linecap="butt"/>
<line x1="1344.00" y1="1128.60" x2="1711.00" y2="1128.60" stroke="#1f405c" stroke-width="1.8" stroke-linecap="butt"/>
<line x1="1379.40" y1="203.00" x2="1379.40" y2="587.50" stroke="#1f4668" stroke-width="3.1" stroke-linecap="butt"/>
<line x1="1379.40" y1="671.00" x2="1379.40" y2="1086.00" stroke="#1f4668" stroke-width="3.1" stroke-linecap="butt"/>
<polygon points="1379.40,161.50 1367.40,205.50 1391.40,205.50" fill="#1d5596" />
<polygon points="1379.40,1127.50 1367.40,1083.50 1391.40,1083.50" fill="#1d5596" />
<line x1="1514.50" y1="750.60" x2="1647.00" y2="750.60" stroke="#1f405c" stroke-width="1.8" stroke-linecap="butt"/>
<line x1="1538.00" y1="794.00" x2="1538.00" y2="875.50" stroke="#1f4668" stroke-width="3.1" stroke-linecap="butt"/>
<line x1="1538.00" y1="955.50" x2="1538.00" y2="1086.00" stroke="#1f4668" stroke-width="3.1" stroke-linecap="butt"/>
<polygon points="1538.00,751.80 1526.00,795.80 1550.00,795.80" fill="#1d5596" />
<polygon points="1538.00,1127.50 1526.00,1083.50 1550.00,1083.50" fill="#1d5596" />
<line x1="1806.00" y1="589.50" x2="1859.00" y2="589.50" stroke="#1f4668" stroke-width="3.1" stroke-linecap="butt"/>
<line x1="2069.00" y1="589.50" x2="2122.00" y2="589.50" stroke="#1f4668" stroke-width="3.1" stroke-linecap="butt"/>
<polygon points="1764.50,589.50 1808.50,577.50 1808.50,601.50" fill="#1d5596" />
<polygon points="2163.50,589.50 2119.50,577.50 2119.50,601.50" fill="#1d5596" />
<line x1="1718.20" y1="1137.00" x2="1718.20" y2="1218.00" stroke="#1f405c" stroke-width="1.8" stroke-linecap="butt"/>
<line x1="2211.60" y1="1137.00" x2="2211.60" y2="1218.00" stroke="#1f405c" stroke-width="1.8" stroke-linecap="butt"/>
<line x1="1762.00" y1="1183.80" x2="1886.50" y2="1183.80" stroke="#1f4668" stroke-width="3.1" stroke-linecap="butt"/>
<line x1="2045.30" y1="1183.80" x2="2168.00" y2="1183.80" stroke="#1f4668" stroke-width="3.1" stroke-linecap="butt"/>
<polygon points="1719.80,1183.80 1763.80,1171.80 1763.80,1195.80" fill="#1d5596" />
<polygon points="2210.20,1183.80 2166.20,1171.80 2166.20,1195.80" fill="#1d5596" />
<line x1="497.10" y1="1210.00" x2="497.10" y2="1485.50" stroke="#1f405c" stroke-width="1.8" stroke-linecap="butt"/>
<line x1="1495.60" y1="1210.00" x2="1495.60" y2="1485.50" stroke="#1f405c" stroke-width="1.8" stroke-linecap="butt"/>
<line x1="540.00" y1="1236.30" x2="900.00" y2="1236.30" stroke="#1f4668" stroke-width="3.1" stroke-linecap="butt"/>
<line x1="1117.00" y1="1236.30" x2="1461.00" y2="1236.30" stroke="#1f4668" stroke-width="3.1" stroke-linecap="butt"/>
<polygon points="498.40,1236.30 542.40,1224.30 542.40,1248.30" fill="#1d5596" />
<polygon points="1494.40,1236.30 1459.40,1226.80 1459.40,1245.80" fill="#1d5596" />
<line x1="359.00" y1="1539.30" x2="508.50" y2="1539.30" stroke="#1f405c" stroke-width="1.8" stroke-linecap="butt"/>
<line x1="358.00" y1="2252.00" x2="602.00" y2="2252.00" stroke="#1f405c" stroke-width="1.8" stroke-linecap="butt"/>
<line x1="391.30" y1="1582.00" x2="391.30" y2="1778.00" stroke="#1f4668" stroke-width="3.1" stroke-linecap="butt"/>
<line x1="391.30" y1="1859.50" x2="391.30" y2="2210.00" stroke="#1f4668" stroke-width="3.1" stroke-linecap="butt"/>
<polygon points="391.30,1540.50 379.30,1584.50 403.30,1584.50" fill="#1d5596" />
<polygon points="391.30,2251.00 379.30,2207.00 403.30,2207.00" fill="#1d5596" />
<line x1="708.00" y1="2214.80" x2="907.50" y2="2214.80" stroke="#1f4668" stroke-width="3.1" stroke-linecap="butt"/>
<line x1="1113.60" y1="2214.80" x2="1286.00" y2="2214.80" stroke="#1f4668" stroke-width="3.1" stroke-linecap="butt"/>
<polygon points="667.50,2214.80 710.50,2202.80 710.50,2226.80" fill="#1d5596" />
<polygon points="1326.60,2214.80 1283.60,2202.80 1283.60,2226.80" fill="#1d5596" />
<line x1="622.20" y1="2261.50" x2="622.20" y2="2352.50" stroke="#1f405c" stroke-width="1.8" stroke-linecap="butt"/>
<line x1="1371.00" y1="2261.50" x2="1371.00" y2="2352.50" stroke="#1f405c" stroke-width="1.8" stroke-linecap="butt"/>
<line x1="666.00" y1="2322.20" x2="904.00" y2="2322.20" stroke="#1f4668" stroke-width="3.1" stroke-linecap="butt"/>
<line x1="1114.60" y1="2322.20" x2="1327.00" y2="2322.20" stroke="#1f4668" stroke-width="3.1" stroke-linecap="butt"/>
<polygon points="623.70,2322.20 667.70,2310.20 667.70,2334.20" fill="#1d5596" />
<polygon points="1369.80,2322.20 1325.80,2310.20 1325.80,2334.20" fill="#1d5596" />
</g>
<text transform="matrix(0.9440 0 0 1.0000 1840.22 105.80)" font-size="66.5" font-weight="normal" fill="#1f4668" stroke="#fff" stroke-linejoin="round"><tspan stroke-width="2.2">6</tspan><tspan stroke-width="2.2" dy="-4.5">'</tspan><tspan stroke-width="2.2" dy="4.5">-2</tspan><tspan stroke-width="2.2" dy="-4.5">&quot;</tspan></text>
<text transform="matrix(0.8950 0 0 1.0000 1288.12 659.30)" font-size="66.5" font-weight="normal" fill="#1f4668" stroke="#fff" stroke-linejoin="round"><tspan stroke-width="2.2">9</tspan><tspan stroke-width="2.2" dy="-4.5">'</tspan><tspan stroke-width="2.2" dy="4.5">-1</tspan><tspan stroke-width="2.2"> </tspan><tspan stroke-width="1.1">½</tspan><tspan stroke-width="2.2" dy="-4.5">&quot;</tspan></text>
<text transform="matrix(0.9588 0 0 1.0000 1865.86 610.50)" font-size="66.5" font-weight="normal" fill="#1f4668" stroke="#fff" stroke-linejoin="round"><tspan stroke-width="2.2">3</tspan><tspan stroke-width="2.2" dy="-4.5">'</tspan><tspan stroke-width="2.2" dy="4.5">-8</tspan><tspan stroke-width="2.2"> </tspan><tspan stroke-width="1.1">½</tspan><tspan stroke-width="2.2" dy="-4.5">&quot;</tspan></text>
<text transform="matrix(0.9716 0 0 1.0000 1437.51 939.40)" font-size="66.5" font-weight="normal" fill="#1f4668" stroke="#fff" stroke-linejoin="round"><tspan stroke-width="2.2">3</tspan><tspan stroke-width="2.2" dy="-4.5">'</tspan><tspan stroke-width="2.2" dy="4.5">-6</tspan><tspan stroke-width="2.2"> </tspan><tspan stroke-width="0.3" dy="-3.5">⁷</tspan><tspan stroke-width="1.1" dy="3.5">⁄</tspan><tspan stroke-width="0.3" dy="-5.5">₂</tspan><tspan stroke-width="2.2" dy="1">&quot;</tspan></text>
<text transform="matrix(0.9701 0 0 1.0000 1905.06 1204.00)" font-size="66.5" font-weight="normal" fill="#1f4668" stroke="#fff" stroke-linejoin="round"><tspan stroke-width="2.2">4</tspan><tspan stroke-width="2.2" dy="-4.5">'</tspan><tspan stroke-width="2.2" dy="4.5">-6</tspan><tspan stroke-width="2.2" dy="-4.5">&quot;</tspan></text>
<text transform="matrix(0.9889 0 0 1.0000 910.74 1261.00)" font-size="66.5" font-weight="normal" fill="#1f4668" stroke="#fff" stroke-linejoin="round"><tspan stroke-width="2.2">9</tspan><tspan stroke-width="2.2" dy="-4.5">'</tspan><tspan stroke-width="2.2" dy="4.5">-7</tspan><tspan stroke-width="2.2"> </tspan><tspan stroke-width="1.1">¾</tspan><tspan stroke-width="2.2" dy="-4.5">&quot;</tspan></text>
<text transform="matrix(0.9975 0 0 1.0000 298.91 1841.60)" font-size="66.5" font-weight="normal" fill="#1f4668" stroke="#fff" stroke-linejoin="round"><tspan stroke-width="2.2">6</tspan><tspan stroke-width="2.2" dy="-4.5">'</tspan><tspan stroke-width="2.2" dy="4.5">-8</tspan><tspan stroke-width="2.2"> </tspan><tspan stroke-width="1.1">¾</tspan><tspan stroke-width="2.2" dy="-4.5">&quot;</tspan></text>
<text transform="matrix(0.9538 0 0 1.0000 913.88 2238.20)" font-size="66.5" font-weight="normal" fill="#1f4668" stroke="#fff" stroke-linejoin="round"><tspan stroke-width="2.2">6</tspan><tspan stroke-width="2.2" dy="-4.5">'</tspan><tspan stroke-width="2.2" dy="4.5">-5</tspan><tspan stroke-width="2.2"> </tspan><tspan stroke-width="1.1">¼</tspan><tspan stroke-width="2.2" dy="-4.5">&quot;</tspan></text>
<text transform="matrix(0.9774 0 0 1.0000 910.39 2345.20)" font-size="66.5" font-weight="normal" fill="#1f4668" stroke="#fff" stroke-linejoin="round"><tspan stroke-width="2.2">7</tspan><tspan stroke-width="2.2" dy="-4.5">'</tspan><tspan stroke-width="2.2" dy="4.5">-2</tspan><tspan stroke-width="2.2"> </tspan><tspan stroke-width="1.1">¾</tspan><tspan stroke-width="2.2" dy="-4.5">&quot;</tspan></text>
<text transform="matrix(0.6982 0 0 1.0338 0 726.47)" x="444.38 559.11 699.52 818.16 881.20 1013.84 1155.35 1296.77" font-size="192" font-weight="bold" fill="#1f5595">PALISADE</text>
<text transform="matrix(1.0005 0 0 1.0281 320.90 837.74)" font-size="88" font-weight="normal" fill="#1f5595" stroke="#1f5595" stroke-width="0.7" stroke-linejoin="miter">OUTDOOR BAR</text>
<text transform="matrix(0.7150 0 0 1.0262 0 1294.97)" x="2501.31 2564.32 2594.80 2659.67 2722.22 2742.71 2806.97 2835.05 2897.14" font-size="86" font-weight="bold" fill="#8fa4c9" stroke="#8fa4c9" stroke-width="0.6" stroke-linejoin="miter">SIDE VIEW</text>
<text transform="matrix(0.7120 0 0 1.0295 0 2435.97)" x="1129.58 1183.84 1247.67 1318.71 1386.64 1445.91 1465.88 1531.33 1558.00 1620.18" font-size="86" font-weight="bold" fill="#8fa4c9" stroke="#8fa4c9" stroke-width="0.6" stroke-linejoin="miter">FRONT VIEW</text>
</svg>
</body>
</html>
